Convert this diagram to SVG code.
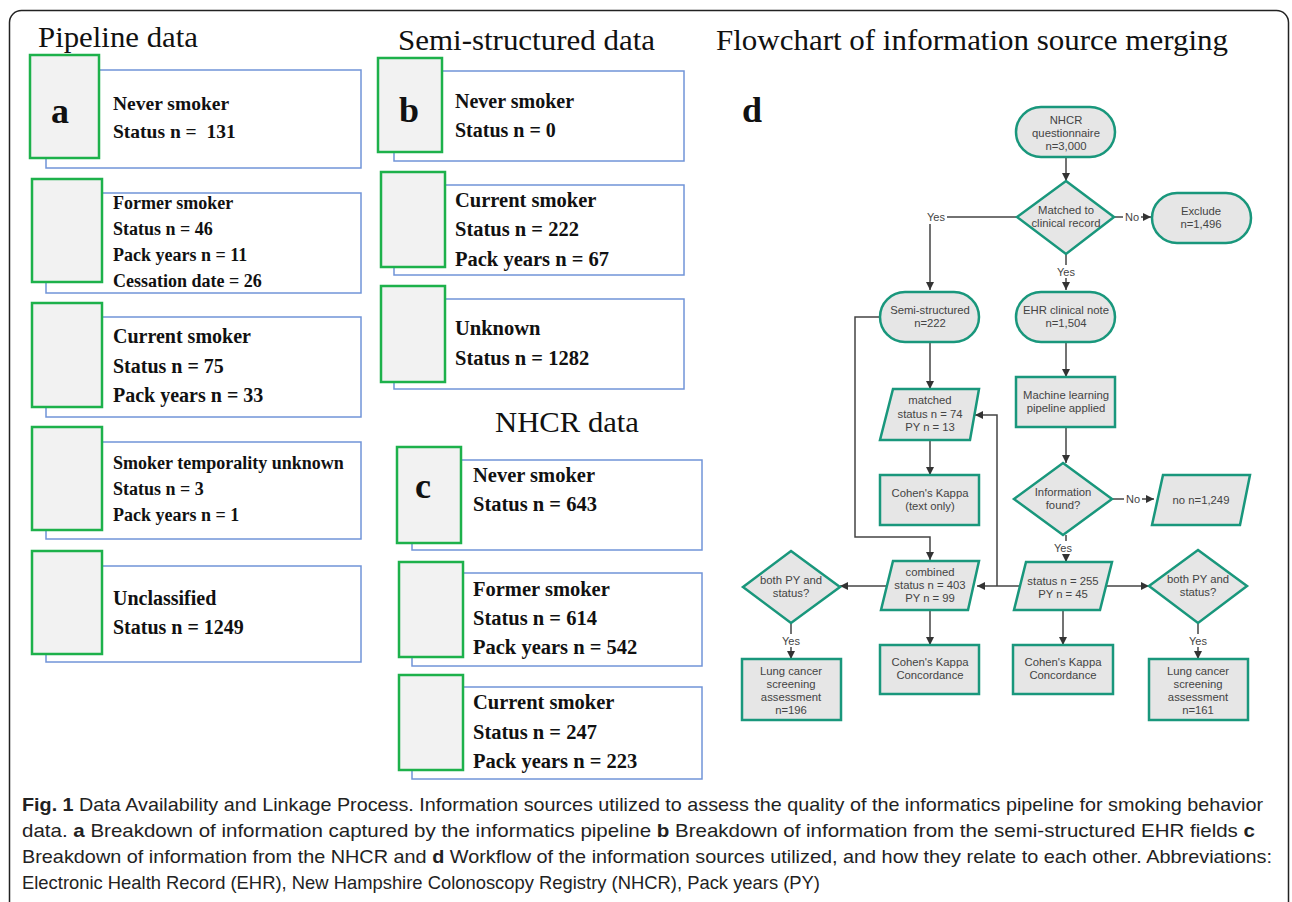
<svg xmlns="http://www.w3.org/2000/svg" width="1292" height="902" viewBox="0 0 1292 902">
<style>
.ttl{font-family:"Liberation Serif","Times New Roman",serif;font-size:30px;fill:#111}
.lab{font-family:"Liberation Serif","Times New Roman",serif;font-size:36px;font-weight:bold;fill:#111}
.bt{font-family:"Liberation Serif","Times New Roman",serif;font-weight:bold;fill:#111}
.gb{fill:#f2f2f2;stroke:#1db14b;stroke-width:2.5}
.bb{fill:#fff;stroke:#7094d8;stroke-width:1.5}
.fn{fill:#e6e6e6;stroke:#19977c;stroke-width:2.5}
.ft{font-family:"Liberation Sans",Arial,sans-serif;font-size:11.3px;fill:#444;text-anchor:middle}
.cn{fill:none;stroke:#444;stroke-width:1.5}
.lb{font-family:"Liberation Sans",Arial,sans-serif;font-size:11px;fill:#444;text-anchor:middle}
.cap{font-family:"Liberation Sans",Arial,sans-serif;font-size:19px;fill:#222}
</style>
<defs>
<marker id="ah" viewBox="0 0 10 10" refX="10" refY="5" markerWidth="9" markerHeight="8" markerUnits="userSpaceOnUse" orient="auto"><path d="M0,0 L10,5 L0,10 z" fill="#333"/></marker>
</defs>
<rect x="0" y="0" width="1292" height="902" fill="#fff"/>
<rect x="9.5" y="10.5" width="1279" height="930" rx="12" fill="#fff" stroke="#222" stroke-width="1.5"/>

<text class="ttl" x="38" y="47" textLength="160" lengthAdjust="spacingAndGlyphs">Pipeline data</text>
<text class="ttl" x="398" y="50" textLength="257" lengthAdjust="spacingAndGlyphs">Semi-structured data</text>
<text class="ttl" x="716" y="50" textLength="512" lengthAdjust="spacingAndGlyphs">Flowchart of information source merging</text>
<text class="ttl" x="495" y="432" textLength="144" lengthAdjust="spacingAndGlyphs">NHCR data</text>

<!-- Panel a -->
<g id="a1">
<rect class="bb" x="46" y="70" width="315" height="98"/>
<rect class="gb" x="30" y="55" width="69" height="103"/>
<text class="lab" x="51" y="123">a</text>
<text class="bt" x="113" y="110" font-size="19.5">Never smoker</text>
<text class="bt" x="113" y="138" font-size="19.5" xml:space="preserve">Status n =  131</text>
</g>
<g id="a2">
<rect class="bb" x="46" y="193" width="315" height="100"/>
<rect class="gb" x="32" y="179" width="70" height="103"/>
<text class="bt" x="113" y="209" font-size="18">Former smoker</text>
<text class="bt" x="113" y="235" font-size="18">Status n = 46</text>
<text class="bt" x="113" y="261" font-size="18">Pack years n = 11</text>
<text class="bt" x="113" y="287" font-size="18">Cessation date = 26</text>
</g>
<g id="a3">
<rect class="bb" x="46" y="317" width="315" height="100"/>
<rect class="gb" x="32" y="303" width="70" height="104"/>
<text class="bt" x="113" y="343" font-size="20">Current smoker</text>
<text class="bt" x="113" y="373" font-size="20">Status n = 75</text>
<text class="bt" x="113" y="402" font-size="20">Pack years n = 33</text>
</g>
<g id="a4">
<rect class="bb" x="46" y="442" width="315" height="97"/>
<rect class="gb" x="32" y="427" width="70" height="103"/>
<text class="bt" x="113" y="469" font-size="18">Smoker temporality unknown</text>
<text class="bt" x="113" y="495" font-size="18">Status n = 3</text>
<text class="bt" x="113" y="521" font-size="18">Pack years n = 1</text>
</g>
<g id="a5">
<rect class="bb" x="46" y="566" width="315" height="96"/>
<rect class="gb" x="32" y="551" width="70" height="103"/>
<text class="bt" x="113" y="605" font-size="20">Unclassified</text>
<text class="bt" x="113" y="634" font-size="20">Status n = 1249</text>
</g>

<!-- Panel b -->
<g id="b1">
<rect class="bb" x="394" y="71" width="290" height="90"/>
<rect class="gb" x="378" y="58" width="64" height="94"/>
<text class="lab" x="399" y="122">b</text>
<text class="bt" x="455" y="108" font-size="20">Never smoker</text>
<text class="bt" x="455" y="137" font-size="20">Status n = 0</text>
</g>
<g id="b2">
<rect class="bb" x="394" y="185" width="290" height="90"/>
<rect class="gb" x="381" y="172" width="64" height="95"/>
<text class="bt" x="455" y="207" font-size="20.5">Current smoker</text>
<text class="bt" x="455" y="236" font-size="20.5">Status n = 222</text>
<text class="bt" x="455" y="266" font-size="20.5">Pack years n = 67</text>
</g>
<g id="b3">
<rect class="bb" x="394" y="299" width="290" height="90"/>
<rect class="gb" x="381" y="286" width="64" height="96"/>
<text class="bt" x="455" y="335" font-size="20.5">Unknown</text>
<text class="bt" x="455" y="365" font-size="20.5">Status n = 1282</text>
</g>

<!-- Panel c -->
<g id="c1">
<rect class="bb" x="412" y="460" width="290" height="90"/>
<rect class="gb" x="397" y="447" width="64" height="96"/>
<text class="lab" x="415" y="498">c</text>
<text class="bt" x="473" y="482" font-size="20.5">Never smoker</text>
<text class="bt" x="473" y="511" font-size="20.5">Status n = 643</text>
</g>
<g id="c2">
<rect class="bb" x="412" y="573" width="290" height="93"/>
<rect class="gb" x="399" y="562" width="64" height="95"/>
<text class="bt" x="473" y="596" font-size="20.5">Former smoker</text>
<text class="bt" x="473" y="625" font-size="20.5">Status n = 614</text>
<text class="bt" x="473" y="654" font-size="20.5">Pack years n = 542</text>
</g>
<g id="c3">
<rect class="bb" x="412" y="687" width="290" height="92"/>
<rect class="gb" x="399" y="675" width="64" height="95"/>
<text class="bt" x="473" y="709" font-size="20.5">Current smoker</text>
<text class="bt" x="473" y="739" font-size="20.5">Status n = 247</text>
<text class="bt" x="473" y="768" font-size="20.5">Pack years n = 223</text>
</g>

<!-- Panel d -->
<text class="lab" x="742" y="122">d</text>

<g id="connectors">
<path class="cn" d="M1066,157 V181" marker-end="url(#ah)"/>
<path class="cn" d="M1114,217 H1151" marker-end="url(#ah)"/>
<path class="cn" d="M1017,217 H930 V290" marker-end="url(#ah)"/>
<path class="cn" d="M1066,254 V290" marker-end="url(#ah)"/>
<path class="cn" d="M930,342 V389" marker-end="url(#ah)"/>
<path class="cn" d="M930,440 V475" marker-end="url(#ah)"/>
<path class="cn" d="M880,317 H855 V537 H930 V560" marker-end="url(#ah)"/>
<path class="cn" d="M1066,342 V377" marker-end="url(#ah)"/>
<path class="cn" d="M1066,427 V463" marker-end="url(#ah)"/>
<path class="cn" d="M1112,499 H1154" marker-end="url(#ah)"/>
<path class="cn" d="M1066,535 V562" marker-end="url(#ah)"/>
<path class="cn" d="M1020,586 H977" marker-end="url(#ah)"/>
<path class="cn" d="M997,586 V415 H975" marker-end="url(#ah)"/>
<path class="cn" d="M1106,586 H1149" marker-end="url(#ah)"/>
<path class="cn" d="M887,586 H840" marker-end="url(#ah)"/>
<path class="cn" d="M791,623 V659" marker-end="url(#ah)"/>
<path class="cn" d="M1198,623 V659" marker-end="url(#ah)"/>
<path class="cn" d="M930,610 V645" marker-end="url(#ah)"/>
<path class="cn" d="M1063,610 V645" marker-end="url(#ah)"/>
<g id="edge-labels">
<rect x="1123" y="210" width="18" height="13" fill="#fff"/><text class="lb" x="1132" y="221">No</text>
<rect x="926" y="210" width="21" height="14" fill="#fff"/><text class="lb" x="936" y="221">Yes</text>
<rect x="1056" y="265" width="21" height="13" fill="#fff"/><text class="lb" x="1066" y="276">Yes</text>
<rect x="1124" y="492" width="18" height="13" fill="#fff"/><text class="lb" x="1133" y="503">No</text>
<rect x="1053" y="541" width="21" height="13" fill="#fff"/><text class="lb" x="1063" y="552">Yes</text>
<rect x="781" y="634" width="21" height="13" fill="#fff"/><text class="lb" x="791" y="645">Yes</text>
<rect x="1188" y="634" width="21" height="13" fill="#fff"/><text class="lb" x="1198" y="645">Yes</text>
</g>
</g>

<g id="nhcr">
<rect class="fn" x="1016" y="107" width="99" height="50" rx="25"/>
<text class="ft" x="1066" y="124">NHCR</text>
<text class="ft" x="1066" y="137">questionnaire</text>
<text class="ft" x="1066" y="150">n=3,000</text>
</g>
<g id="matched">
<polygon class="fn" points="1066,181 1114,217 1066,254 1017,217"/>
<text class="ft" x="1066" y="214">Matched to</text>
<text class="ft" x="1066" y="227">clinical record</text>
</g>
<g id="exclude">
<rect class="fn" x="1152" y="193" width="99" height="50" rx="25"/>
<text class="ft" x="1201" y="215">Exclude</text>
<text class="ft" x="1201" y="228">n=1,496</text>
</g>
<g id="semi">
<rect class="fn" x="880" y="292" width="99" height="50" rx="25"/>
<text class="ft" x="930" y="314">Semi-structured</text>
<text class="ft" x="930" y="327">n=222</text>
</g>
<g id="ehr">
<rect class="fn" x="1016" y="292" width="99" height="50" rx="25"/>
<text class="ft" x="1066" y="314">EHR clinical note</text>
<text class="ft" x="1066" y="327">n=1,504</text>
</g>
<g id="matched-data">
<polygon class="fn" points="893,389 979,389 970,440 880,440"/>
<text class="ft" x="930" y="404">matched</text>
<text class="ft" x="930" y="418">status n = 74</text>
<text class="ft" x="930" y="431">PY n = 13</text>
</g>
<g id="kappa-text">
<rect class="fn" x="880" y="475" width="99" height="50"/>
<text class="ft" x="930" y="497">Cohen's Kappa</text>
<text class="ft" x="930" y="510">(text only)</text>
</g>
<g id="ml">
<rect class="fn" x="1016" y="377" width="99" height="50"/>
<text class="ft" x="1066" y="399">Machine learning</text>
<text class="ft" x="1066" y="412">pipeline applied</text>
</g>
<g id="info">
<polygon class="fn" points="1063,463 1112,499 1063,535 1014,499"/>
<text class="ft" x="1063" y="496">Information</text>
<text class="ft" x="1063" y="509">found?</text>
</g>
<g id="no-data">
<polygon class="fn" points="1163,475 1250,475 1240,525 1152,525"/>
<text class="ft" x="1201" y="504">no n=1,249</text>
</g>
<g id="status-data">
<polygon class="fn" points="1026,562 1112,562 1100,610 1014,610"/>
<text class="ft" x="1063" y="585">status n = 255</text>
<text class="ft" x="1063" y="598">PY n = 45</text>
</g>
<g id="combined">
<polygon class="fn" points="893,561 979,561 968,610 881,610"/>
<text class="ft" x="930" y="576">combined</text>
<text class="ft" x="930" y="589">status n = 403</text>
<text class="ft" x="930" y="602">PY n = 99</text>
</g>
<g id="both-left">
<polygon class="fn" points="791,551 840,587 791,623 743,587"/>
<text class="ft" x="791" y="584">both PY and</text>
<text class="ft" x="791" y="597">status?</text>
</g>
<g id="both-right">
<polygon class="fn" points="1198,550 1247,586 1198,623 1149,586"/>
<text class="ft" x="1198" y="583">both PY and</text>
<text class="ft" x="1198" y="596">status?</text>
</g>
<g id="lung-left">
<rect class="fn" x="742" y="659" width="99" height="61"/>
<text class="ft" x="791" y="675">Lung cancer</text>
<text class="ft" x="791" y="688">screening</text>
<text class="ft" x="791" y="701">assessment</text>
<text class="ft" x="791" y="714">n=196</text>
</g>
<g id="lung-right">
<rect class="fn" x="1149" y="659" width="99" height="61"/>
<text class="ft" x="1198" y="675">Lung cancer</text>
<text class="ft" x="1198" y="688">screening</text>
<text class="ft" x="1198" y="701">assessment</text>
<text class="ft" x="1198" y="714">n=161</text>
</g>
<g id="kappa-left">
<rect class="fn" x="880" y="645" width="99" height="49"/>
<text class="ft" x="930" y="666">Cohen's Kappa</text>
<text class="ft" x="930" y="679">Concordance</text>
</g>
<g id="kappa-right">
<rect class="fn" x="1013" y="645" width="100" height="49"/>
<text class="ft" x="1063" y="666">Cohen's Kappa</text>
<text class="ft" x="1063" y="679">Concordance</text>
</g>

<!-- Caption -->
<text class="cap" x="22" y="811" textLength="1241" lengthAdjust="spacingAndGlyphs"><tspan font-weight="bold">Fig. 1</tspan> Data Availability and Linkage Process. Information sources utilized to assess the quality of the informatics pipeline for smoking behavior</text>
<text class="cap" x="22" y="837" textLength="1233" lengthAdjust="spacingAndGlyphs">data. <tspan font-weight="bold">a</tspan> Breakdown of information captured by the informatics pipeline <tspan font-weight="bold">b</tspan> Breakdown of information from the semi-structured EHR fields <tspan font-weight="bold">c</tspan></text>
<text class="cap" x="22" y="863" textLength="1250" lengthAdjust="spacingAndGlyphs">Breakdown of information from the NHCR and <tspan font-weight="bold">d</tspan> Workflow of the information sources utilized, and how they relate to each other. Abbreviations:</text>
<text class="cap" x="22" y="889" textLength="798" lengthAdjust="spacingAndGlyphs">Electronic Health Record (EHR), New Hampshire Colonoscopy Registry (NHCR), Pack years (PY)</text>
</svg>
